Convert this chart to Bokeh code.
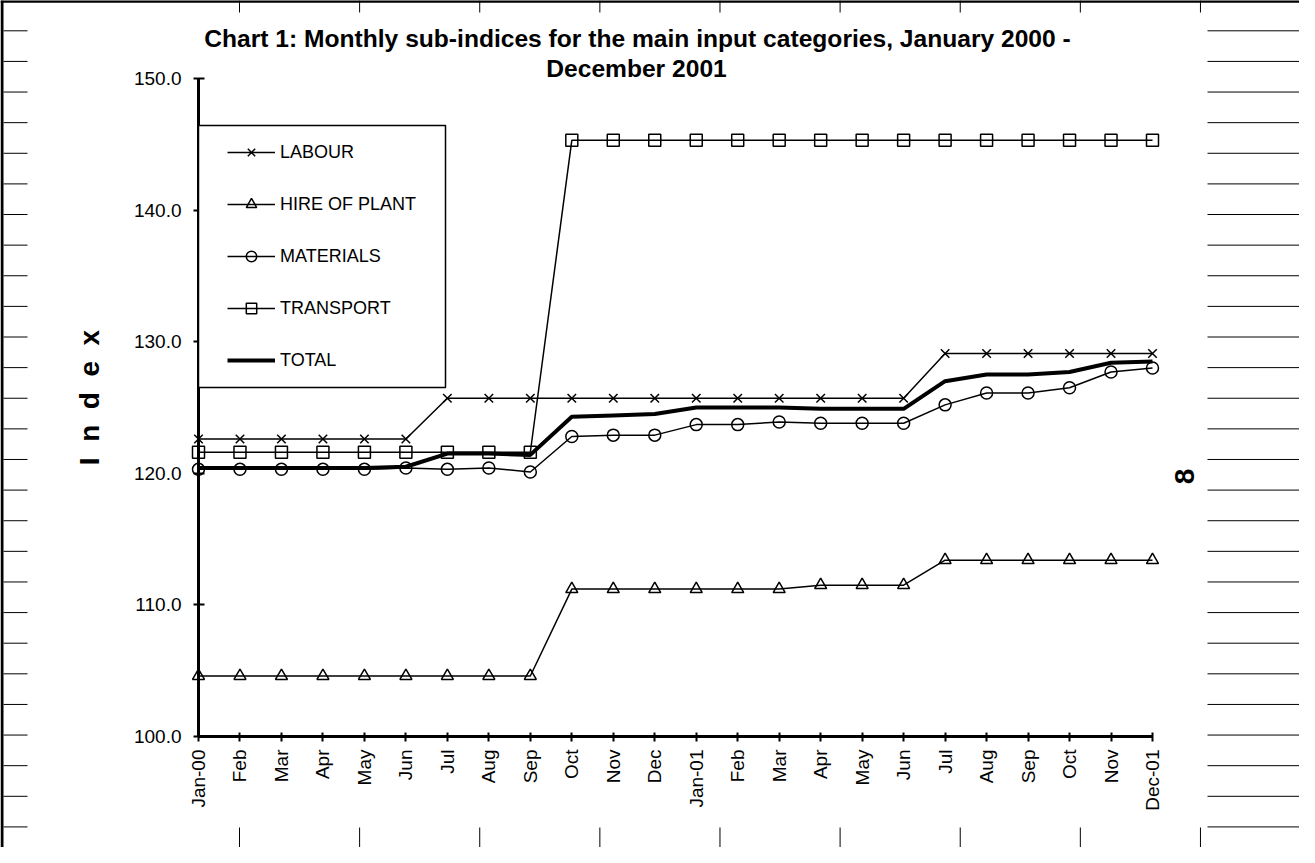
import math
from bokeh.plotting import figure
from bokeh.models import (Range1d, FixedTicker, NumeralTickFormatter, Legend,
                          LegendItem, LinearAxis, Label, BoxAnnotation)
from bokeh.embed import file_html
from bokeh.resources import INLINE

# ---------------- data ----------------
months = ["Jan-00", "Feb", "Mar", "Apr", "May", "Jun", "Jul", "Aug", "Sep", "Oct", "Nov", "Dec",
          "Jan-01", "Feb", "Mar", "Apr", "May", "Jun", "Jul", "Aug", "Sep", "Oct", "Nov", "Dec-01"]
labour = [122.6, 122.6, 122.6, 122.6, 122.6, 122.6, 125.7, 125.7, 125.7, 125.7, 125.7, 125.7,
          125.7, 125.7, 125.7, 125.7, 125.7, 125.7, 129.1, 129.1, 129.1, 129.1, 129.1, 129.1]
hire_of_plant = [104.6, 104.6, 104.6, 104.6, 104.6, 104.6, 104.6, 104.6, 104.6, 111.2, 111.2, 111.2,
                 111.2, 111.2, 111.2, 111.5, 111.5, 111.5, 113.4, 113.4, 113.4, 113.4, 113.4, 113.4]
materials = [120.3, 120.3, 120.3, 120.3, 120.3, 120.4, 120.3, 120.4, 120.1, 122.8, 122.9, 122.9,
             123.7, 123.7, 123.9, 123.8, 123.8, 123.8, 125.2, 126.1, 126.1, 126.5, 127.7, 128.0]
transport = [121.6, 121.6, 121.6, 121.6, 121.6, 121.6, 121.6, 121.6, 121.6, 145.3, 145.3, 145.3,
             145.3, 145.3, 145.3, 145.3, 145.3, 145.3, 145.3, 145.3, 145.3, 145.3, 145.3, 145.3]
total = [120.4, 120.4, 120.4, 120.4, 120.4, 120.5, 121.5, 121.5, 121.4, 124.3, 124.4, 124.5,
         125.0, 125.0, 125.0, 124.9, 124.9, 124.9, 127.0, 127.5, 127.5, 127.7, 128.4, 128.5]
y_ticks = [100, 110, 120, 130, 140, 150]
series_names = ["LABOUR", "HIRE OF PLANT", "MATERIALS", "TRANSPORT", "TOTAL"]
title_line1 = "Chart 1: Monthly sub-indices for the main input categories, January 2000 -"
title_line2 = "December 2001"

# ---------------- layout ----------------
W, H = 1299, 847
PAGE = 8                       # page margin
X0, DX = 198.0, 954.0 / 23     # canvas px of first month, px per month
Y_TOP, DY = 78.0, 658.0 / 50   # canvas px of y=150, px per index point


def xd(page_x):
    return ((page_x - PAGE) - X0) / DX


def yd(page_y):
    return 150 - ((page_y - PAGE) - Y_TOP) / DY


FONT = "Liberation Sans"

p = figure(width=W, height=H, output_backend="svg", toolbar_location=None,
           x_range=Range1d(xd(PAGE), xd(PAGE + W)), y_range=Range1d(yd(PAGE + H), yd(PAGE)),
           x_axis_type=None, y_axis_type=None, min_border=0)
p.outline_line_color = None
p.title.visible = False
p.background_fill_color = "white"
p.border_fill_color = "white"

# axes
xaxis = LinearAxis(fixed_location=100, bounds=(0, len(months) - 1),
                   ticker=FixedTicker(ticks=list(range(len(months))), minor_ticks=[]),
                   major_label_overrides={i: m for i, m in enumerate(months)},
                   major_label_orientation=math.pi / 2)
yaxis = LinearAxis(fixed_location=0, bounds=(y_ticks[0], y_ticks[-1]),
                   ticker=FixedTicker(ticks=y_ticks, minor_ticks=[]),
                   formatter=NumeralTickFormatter(format="0.0"))
for ax in (xaxis, yaxis):
    ax.axis_line_color = "black"
    ax.axis_line_width = 3
    ax.major_tick_line_color = "black"
    ax.major_tick_line_width = 2
    ax.minor_tick_line_color = None
    ax.major_label_text_font = FONT
    ax.major_label_text_font_size = "19px"
    ax.major_label_text_color = "black"
xaxis.major_tick_in = 4
xaxis.major_tick_out = 5
xaxis.major_label_standoff = 8
yaxis.major_tick_in = 6
yaxis.major_tick_out = 5
yaxis.major_label_standoff = 12
p.add_layout(xaxis, "below")
p.add_layout(yaxis, "left")

x = list(range(len(months)))
items = []
specs = [(labour, "x"), (hire_of_plant, "triangle"), (materials, "circle"), (transport, "square")]
for name, (vals, mk) in zip(series_names[:4], specs):
    lr = p.line(x, vals, line_color="black", line_width=1.5)
    sr = p.scatter(x, vals, marker=mk, size=12, fill_color=None, line_color="black", line_width=1.5)
    items.append(LegendItem(label=name, renderers=[lr, sr]))
tr = p.line(x, total, line_color="black", line_width=4)
items.append(LegendItem(label=series_names[4], renderers=[tr]))

# legend frame
p.add_layout(BoxAnnotation(left=0, right=xd(453), top=yd(133), bottom=yd(395),
                           fill_color="white", fill_alpha=1.0,
                           line_color="black", line_alpha=1.0, line_width=1.5))

legend = Legend(items=items, location=(227, H - 373), orientation="vertical",
                border_line_color=None, background_fill_alpha=0.0,
                padding=0, spacing=26, margin=0, glyph_height=26, glyph_width=48,
                label_standoff=5, label_width=150, label_height=26,
                label_text_font=FONT, label_text_font_size="18px", label_text_color="black")
p.add_layout(legend)

# titles and axis texts
p.add_layout(Label(x=xd(645), y=yd(46), text=title_line1, text_align="center", text_baseline="middle",
                   text_font=FONT, text_font_size="24.6px", text_font_style="bold", text_color="black"))
p.add_layout(Label(x=xd(644), y=yd(76), text=title_line2, text_align="center", text_baseline="middle",
                   text_font=FONT, text_font_size="24.6px", text_font_style="bold", text_color="black"))
p.add_layout(Label(x=xd(97), y=yd(405), text="I\u00a0 n\u00a0 d\u00a0 e\u00a0 x", angle=math.pi / 2,
                   text_align="center", text_baseline="alphabetic",
                   text_font=FONT, text_font_size="28px", text_font_style="bold", text_color="black"))
p.add_layout(Label(x=xd(1192), y=yd(484), text="8", angle=math.pi / 2,
                   text_align="center", text_baseline="alphabetic",
                   text_font=FONT, text_font_size="28px", text_font_style="bold", text_color="black"))

# sheet frame decoration (outer border and cell ticks)
left_ys = [38.3 + 30.62 * k for k in range(27)]
top_xs = [247 + 120.12 * k for k in range(9)]
x0s, y0s, x1s, y1s = [], [], [], []
for yy in left_ys:
    x0s += [xd(11), xd(1215)]
    x1s += [xd(35), xd(1320)]
    y0s += [yd(yy), yd(yy)]
    y1s += [yd(yy), yd(yy)]
for xx in top_xs:
    x0s += [xd(xx), xd(xx)]
    x1s += [xd(xx), xd(xx)]
    y0s += [yd(8), yd(835)]
    y1s += [yd(20), yd(870)]
p.segment(x0=x0s, y0=y0s, x1=x1s, y1=y1s, line_color="black", line_width=1)
p.segment(x0=[xd(9.5), xd(8)], y0=[yd(8), yd(8.75)], x1=[xd(9.5), xd(1320)], y1=[yd(870), yd(8.75)],
          line_color="black", line_width=3)

open("out.html", "w").write(file_html(p, INLINE))
